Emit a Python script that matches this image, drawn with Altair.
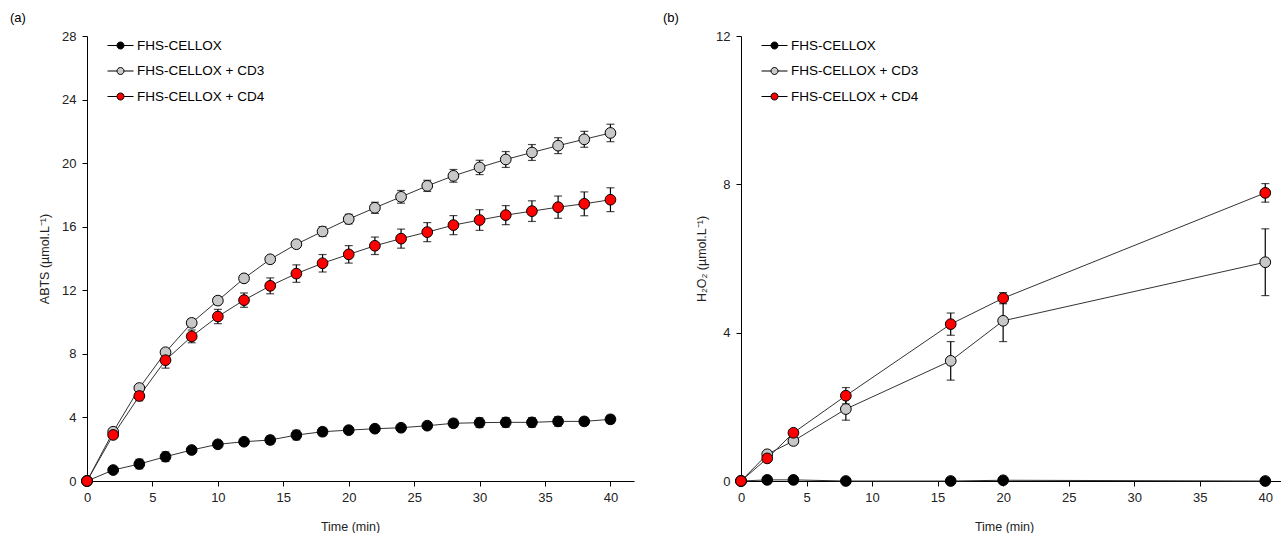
import altair as alt
import pandas as pd

FONT = "Liberation Sans"
series = ["FHS-CELLOX", "FHS-CELLOX + CD3", "FHS-CELLOX + CD4"]
fills = ["#000000", "#c8c8c8", "#ff0000"]

# Panel (a): ABTS
time_a = [0, 2, 4, 6, 8, 10, 12, 14, 16, 18, 20, 22, 24, 26, 28, 30, 32, 34, 36, 38, 40]
abts_ctrl = [0, 0.69, 1.07, 1.53, 1.95, 2.31, 2.47, 2.58, 2.89, 3.10, 3.20, 3.29, 3.35, 3.48, 3.63, 3.67, 3.69, 3.69, 3.75, 3.75, 3.88]
abts_ctrl_err = [0, 0.15, 0.3, 0.3, 0.2, 0.2, 0.2, 0.25, 0.3, 0.25, 0.2, 0.2, 0.2, 0.2, 0.25, 0.3, 0.3, 0.3, 0.3, 0.25, 0.25]
abts_cd3 = [0, 3.1, 5.85, 8.1, 9.95, 11.35, 12.75, 13.95, 14.9, 15.7, 16.48, 17.19, 17.88, 18.57, 19.2, 19.73, 20.23, 20.67, 21.1, 21.5, 21.9]
abts_cd3_err = [0, 0.15, 0.2, 0.2, 0.25, 0.25, 0.2, 0.2, 0.2, 0.3, 0.3, 0.35, 0.4, 0.35, 0.4, 0.45, 0.5, 0.5, 0.5, 0.5, 0.55]
abts_cd4 = [0, 2.9, 5.35, 7.6, 9.1, 10.35, 11.38, 12.28, 13.05, 13.7, 14.26, 14.8, 15.25, 15.66, 16.1, 16.42, 16.73, 16.98, 17.23, 17.44, 17.7]
abts_cd4_err = [0, 0.2, 0.3, 0.5, 0.4, 0.45, 0.45, 0.5, 0.55, 0.55, 0.55, 0.55, 0.6, 0.6, 0.6, 0.65, 0.6, 0.65, 0.7, 0.75, 0.75]

# Panel (b): H2O2
time_b = [0, 2, 4, 8, 16, 20, 40]
h2o2_ctrl = [0, 0.03, 0.03, 0.0, 0.0, 0.02, 0.0]
h2o2_ctrl_err = [0, 0.02, 0.02, 0.01, 0.01, 0.02, 0.01]
h2o2_cd3 = [0, 0.72, 1.08, 1.94, 3.24, 4.32, 5.9]
h2o2_cd3_err = [0, 0.05, 0.1, 0.3, 0.52, 0.56, 0.9]
h2o2_cd4 = [0, 0.61, 1.3, 2.3, 4.23, 4.93, 7.77]
h2o2_cd4_err = [0, 0.05, 0.08, 0.22, 0.3, 0.15, 0.25]


def frame(times, vals, errs):
    rows = []
    for s, v, e in zip(series, vals, errs):
        for t, y, d in zip(times, v, e):
            rows.append({"t": t, "y": y, "lo": y - d, "hi": y + d, "s": s})
    return pd.DataFrame(rows)


df_a = frame(time_a, [abts_ctrl, abts_cd3, abts_cd4], [abts_ctrl_err, abts_cd3_err, abts_cd4_err])
df_b = frame(time_b, [h2o2_ctrl, h2o2_cd3, h2o2_cd4], [h2o2_ctrl_err, h2o2_cd3_err, h2o2_cd4_err])

r = 0.27
SYMBOL = (f"M-1,0H-{r}M{r},0H1M-{r},0A{r},{r},0,1,0,{r},0A{r},{r},0,1,0,-{r},0Z")


def panel(df, ymax, yticks, xmax, ytitle, label, interp, w, dx, ytp):
    x = alt.X("t:Q", scale=alt.Scale(domain=[0, xmax], nice=False),
              axis=alt.Axis(values=[0, 5, 10, 15, 20, 25, 30, 35, 40], title="Time (min)",
                            titleX=263, titlePadding=16, labelPadding=5, labelFlush=False))
    y = alt.Y("y:Q", scale=alt.Scale(domain=[0, ymax], nice=False),
              axis=alt.Axis(values=yticks, title=ytitle, titlePadding=ytp, labelPadding=6,
                            labelFlush=False))
    base = alt.Chart(df)
    line = base.mark_line(color="#333333", strokeWidth=1, interpolate=interp).encode(
        x=x, y=y, detail="s:N")
    rule = base.mark_rule(color="black", strokeWidth=1.2).encode(
        x="t:Q", y="lo:Q", y2="hi:Q")
    tick_lo = base.mark_tick(color="black", orient="horizontal", size=8, thickness=1.2).encode(
        x="t:Q", y="lo:Q")
    tick_hi = base.mark_tick(color="black", orient="horizontal", size=8, thickness=1.2).encode(
        x="t:Q", y="hi:Q")
    pts = base.mark_point(filled=True, size=115, stroke="black", strokeWidth=1, opacity=1,
                          shape="circle").encode(
        x="t:Q", y="y:Q",
        fill=alt.Fill("s:N", scale=alt.Scale(domain=series, range=fills),
                      legend=alt.Legend(title=None, orient="none", legendX=20, legendY=-4,
                                        symbolType=SYMBOL, symbolSize=676,
                                        symbolStrokeColor="black", symbolStrokeWidth=1,
                                        labelFont=FONT, labelFontSize=13.5, labelColor="black",
                                        labelOffset=3, rowPadding=5.5)),
    )
    return alt.layer(line, rule, tick_lo, tick_hi, pts).properties(
        width=w, height=445,
        title=alt.TitleParams(label, anchor="start", frame="group", dx=dx, offset=5,
                              font=FONT, fontSize=13, fontWeight="normal", color="black"))


pa = panel(df_a, 28, list(range(0, 29, 4)), 41.8, "ABTS (µmol.L⁻¹)", "(a)", "linear", 547, -77, 10)
pb = panel(df_b, 12, [0, 4, 8, 12], 41.2, "H₂O₂ (µmol.L⁻¹)", "(b)", "linear", 540, -78, 7)

chart = alt.hconcat(pa, pb, spacing=107, bounds="flush").resolve_scale(
    fill="independent").resolve_legend(fill="independent").properties(
    padding={"left": 10, "top": 12, "right": 0, "bottom": 0}
).configure_view(stroke=None).configure_axis(
    domainColor="black", tickColor="black", tickSize=5, grid=False,
    labelFont=FONT, labelFontSize=13, labelColor="#222222",
    titleFont=FONT, titleFontSize=12.5, titleFontWeight="normal", titleColor="#222222",
)

chart.save("out.html", embed_options={"renderer": "svg", "actions": False})
